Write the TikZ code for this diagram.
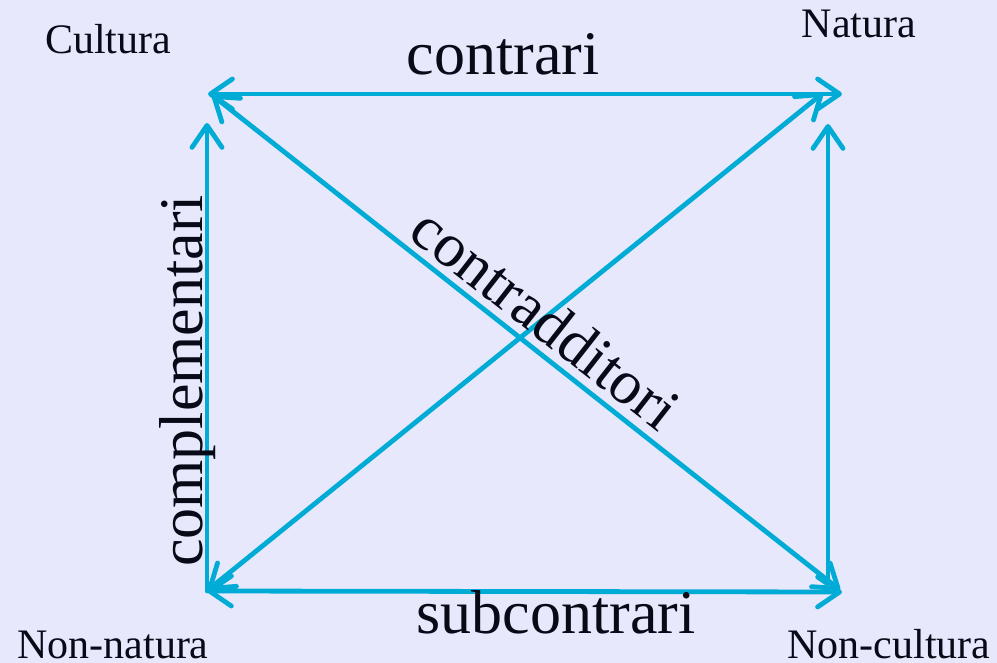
\documentclass[tikz,border=0pt]{standalone}
\usepackage{fontspec}
\setmainfont{Liberation Serif}
\usepackage{xcolor}
\usepackage{tikz}
\usetikzlibrary{arrows.meta}
\definecolor{sqBack}{RGB}{232,232,252}
\definecolor{sqCyan}{RGB}{0,172,214}
\definecolor{sqInk}{RGB}{8,10,24}

\begin{document}
\begin{tikzpicture}[x=0.5pt,y=-0.5pt,
  barb/.tip={Straight Barb[length=11pt,width=15pt,round]},
  biarrow/.style={sqCyan, line width=2.4pt, line cap=round, barb-barb},
  uparrow/.style={sqCyan, line width=2.4pt, line cap=round, -barb},
  cornerlbl/.style={text=sqInk, anchor=base, inner sep=0pt, font=\fontsize{21}{25}\selectfont},
  rellbl/.style={text=sqInk, anchor=base, inner sep=0pt, font=\fontsize{31}{37}\selectfont}]
\fill[sqBack] (0,0) rectangle (997,663);
\useasboundingbox (0,0) rectangle (997,663);

% corners of the square
\coordinate (cul) at (208,94);
\coordinate (nat) at (842,94);
\coordinate (nonnat) at (207,591);
\coordinate (noncul) at (842,592);
\coordinate (culv) at (207,123);
\coordinate (natv) at (828,124);
\coordinate (nonculv) at (828,590);
\coordinate (culd) at (212,95);
\coordinate (natd) at (823,93);
\coordinate (nonnatd) at (208,590);
\coordinate (nonculd) at (840,590);

\node[cornerlbl] (lcul) at (108,54) {Cultura};
\node[cornerlbl] (lnat) at (859,38) {Natura};
\node[cornerlbl] (lnonnat) at (113,658) {Non-natura};
\node[cornerlbl] (lnoncul) at (889,658) {Non-cultura};

\draw[biarrow] (cul) -- (nat);
\draw[biarrow] (nonnat) -- (noncul);
\draw[uparrow] (nonnat) -- (culv);
\draw[uparrow] (nonculv) -- (natv);
\draw[biarrow] (culd) -- (nonculd);
\draw[biarrow] (nonnatd) -- (natd);

\node[rellbl] (contr) at (503,75) {contrari};
\node[rellbl] (subcontr) at (556,633) {subcontrari};
\node[rellbl, rotate=90] (compl) at (202,381) {complementari};
\node[rellbl, anchor=center, rotate=-38] (contrad) at (546,318) {contradditori};
\end{tikzpicture}
\end{document}
